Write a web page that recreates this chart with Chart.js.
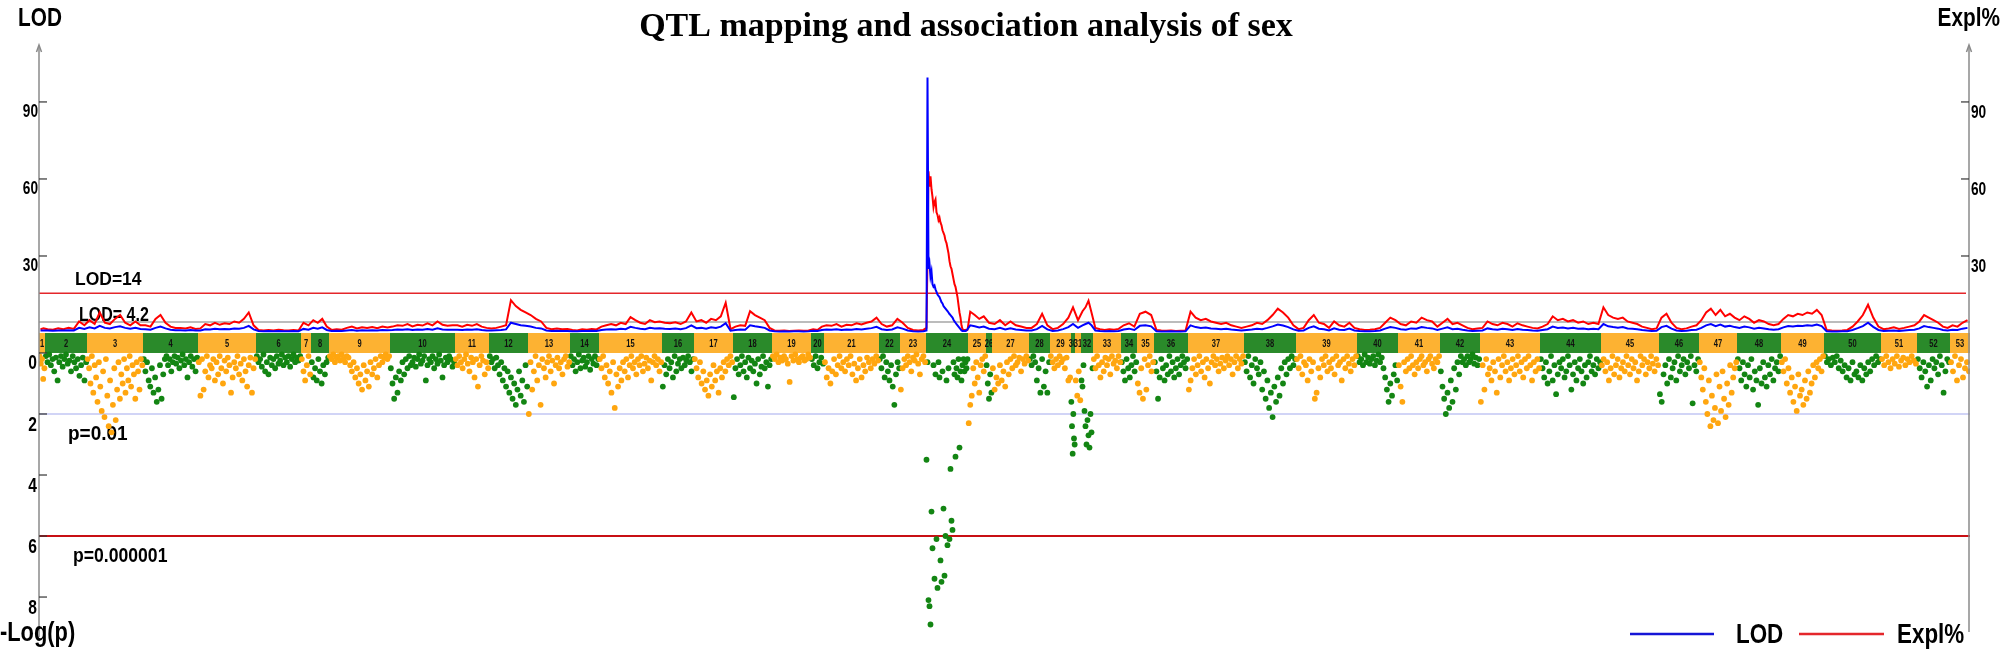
<!DOCTYPE html>
<html>
<head>
<meta charset="utf-8">
<title>QTL mapping and association analysis of sex</title>
<script src="https://cdn.jsdelivr.net/npm/chart.js@4.4.1/dist/chart.umd.min.js"></script>
<style>
  html, body { margin: 0; padding: 0; background: #fff; }
  #wrap { width: 2004px; height: 655px; position: relative; }
</style>
</head>
<body>
<div id="wrap"><canvas id="qtl"></canvas></div>
<script>
// chromosome names and their widths along the map
const chrLabels = ['1','2','3','4','5','6','7','8','9','10','11','12','13','14','15','16','17','18','19','20',
  '21','22','23','24','25','26','27','28','29','30','31','32','33','34','35','36','37','38','39','40',
  '41','42','43','44','45','46','47','48','49','50','51','52','53'];
const chrLengths = [6,42,56,55,58,45,10,18,61,65,34,39,42,29,63,32,39,39,39,13,
  55,21,26,42,18,6,37,21,21,4,6,12,28,16,17,34,56,52,61,41,
  42,40,60,61,58,40,38,44,43,57,36,33,20];

const lodTicks = [30, 60, 90];
const logpTicks = [0, 2, 4, 6, 8];
const lodThresholds = [15.5, 4.3];
const lodThresholdLabels = ['LOD=14', 'LOD= 4.2'];
const pThresholds = [2, 6];
const pThresholdLabels = ['p=0.01', 'p=0.000001'];

// LOD profile (blue), per chromosome
const lod = [
  [1.0,1.0],
  [1.0,0.9,1.0,1.0,1.1,1.0,2.0,1.6],
  [2.2,1.8,2.8,2.0,1.8,2.3,2.6,2.0,1.7,2.0,1.6],
  [1.5,1.3,2.0,2.5,1.8,1.3,1.1,1.1,1.0,1.2,1.0],
  [1.0,1.5,1.4,1.7,1.5,1.6,1.5,1.8,1.7,2.0,2.8,1.4],
  [0.8,0.7,0.8,0.7,0.8,0.7,0.7,0.8,0.7],
  [1.6,1.3],
  [2.0,1.7,2.2,1.2],
  [0.8,0.9,0.8,1.0,1.2,0.9,1.1,1.0,1.1,1.0,1.2,1.1],
  [1.2,1.4,1.3,1.5,1.2,1.4,1.3,1.6,1.3,1.8,1.4,1.3,1.3],
  [1.3,1.2,1.4,1.3,1.5,1.2,1.0],
  [1.0,1.1,1.2,1.4,4.0,3.5,3.0,2.8],
  [2.5,2.0,1.8,1.0,0.8,0.9,0.8,0.8],
  [0.7,0.7,0.8,0.8,0.9,0.8],
  [1.2,1.4,1.5,1.4,1.7,1.5,2.4,2.0,1.7,1.5,2.0,1.8,1.9],
  [1.7,1.6,1.8,1.5,1.9,3.0],
  [1.9,2.0,1.7,2.2,2.0,2.5,3.8,0.9],
  [1.2,1.4,1.3,3.0,2.6,2.3,2.0,1.0],
  [0.7,0.6,0.7,0.6,0.7,0.7,0.6,0.7],
  [0.9,0.8,1.2],
  [1.4,1.3,1.5,1.2,1.4,1.3,1.6,1.4,1.7,1.9,2.4],
  [1.5,1.2,1.4,2.2],
  [1.7,1.0,0.7,0.6,0.7],
  [1.0,99.5,25,27,22,24,19,18,18.5,17,16,15,14.5,14,13,12,11.5,10.5,10,9.5,9,8.5,8,7.4,7,6.5,6,5.2,4.5,4,3.5,3,2.5,2,1.5,1.0,0.8,0.8,0.9,0.8,1.0,1.5],
  [3.0,2.6,2.2,2.5],
  [1.7],
  [1.5,2.0,1.4,1.8,1.4,1.2,1.0],
  [1.0,1.5,2.8,1.4],
  [0.8,1.0,1.5,2.3],
  [3.5],
  [2.0],
  [3.0,3.5,4.0,3.0],
  [1.0,0.8,0.7,0.8,0.7,0.8],
  [1.4,1.7,1.2],
  [2.8,3.0,2.6],
  [0.7,0.6,0.6,0.7,0.6,0.6,0.7],
  [3.0,2.3,2.0,2.1,1.8,1.7,1.5,1.7,1.4,1.2,1.0],
  [1.2,1.4,1.7,1.5,2.0,2.6,3.3,2.9,2.3,1.4],
  [0.9,1.0,2.0,2.6,1.7,1.5,1.0,1.8,1.3,1.2,1.7,1.0],
  [0.8,0.7,0.7,0.8,1.0,1.7,2.3,2.0],
  [1.5,1.3,1.8,1.7,2.3,2.0,1.8,1.2],
  [1.7,2.2,1.5,1.7,1.3,1.0,0.8,0.9],
  [1.0,1.8,1.5,1.3,1.7,1.5,1.2,1.6,1.3,1.2,1.0,0.9],
  [1.2,1.5,2.5,2.0,2.1,1.8,2.0,1.7,1.8,1.5,1.7,1.5],
  [3.5,2.6,2.3,2.1,2.3,1.8,1.7,1.5,1.2,1.0,0.8,0.9],
  [2.3,2.8,1.7,1.0,0.8,0.9,1.2,1.3],
  [2.0,3.0,3.5,2.7,3.3,2.5,2.8,2.3],
  [2.0,2.5,2.2,1.7,2.0,1.8,1.5,1.3,1.5],
  [2.2,2.7,2.5,2.8,2.7,3.0,2.8,3.3,2.7],
  [0.7,0.6,0.6,0.7,0.7,1.2,1.9,2.7,4.0,2.4,1.2],
  [0.8,0.9,1.0,0.8,1.0,1.2,1.3],
  [1.8,2.7,2.3,2.0,1.7,1.2,1.0],
  [1.3,1.2,1.7,2.0]
];

// explained variance (red), per chromosome
const expl = [
  [1.5,1.8],
  [1.5,1.3,1.8,1.5,2.0,1.6,4.5,3.0],
  [5.0,3.5,8.0,4.0,3.5,5.5,7.0,4.0,3.0,4.5,3.0],
  [3.0,2.5,5.5,7.0,4.0,2.5,2.0,2.0,1.8,2.2,1.6],
  [1.8,3.5,3.0,4.0,3.2,3.8,3.5,4.5,4.0,5.5,8.0,3.0],
  [1.2,1.0,1.2,1.0,1.3,1.1,1.0,1.2,1.0],
  [4.0,3.0],
  [5.0,4.0,5.5,2.5],
  [1.2,1.5,1.3,2.0,2.5,1.8,2.2,2.0,2.3,1.9,2.5,2.2],
  [2.5,3.0,2.8,3.5,2.6,3.2,2.9,3.8,3.0,4.5,3.2,2.8,3.0],
  [3.0,2.5,3.2,2.8,3.5,2.5,2.0],
  [1.8,2.0,2.5,3.0,12.8,10.5,9.0,8.0],
  [7.0,5.5,4.5,2.0,1.5,1.8,1.5,1.6],
  [1.2,1.0,1.5,1.3,1.6,1.4],
  [2.5,3.0,3.5,3.0,4.0,3.5,6.2,5.0,4.0,3.5,5.0,4.2,4.5],
  [4.0,3.8,4.2,3.5,4.5,8.0],
  [4.5,5.0,4.0,5.5,5.0,6.5,11.8,1.5],
  [2.5,3.0,2.8,8.5,7.0,6.0,5.0,2.0],
  [1.0,0.9,1.0,0.8,0.9,1.0,0.9,1.0],
  [1.5,1.2,2.5],
  [3.0,2.8,3.5,2.5,3.2,3.0,3.8,3.3,4.0,4.5,6.0],
  [3.5,2.5,3.0,5.5],
  [4.0,2.0,1.2,1.0,1.2],
  [2,30,63,57,61,56,53,49,51,52,47,46,44,45,43,42,40,39,38,36,35,33,31,28,26,25,23,21,19,18,16,14,11,8,6,3,1.5,1.2,1.0,1.2,1.0,1.2],
  [8.3,7.0,5.5,6.5],
  [4.0],
  [3.5,5.0,3.0,4.5,3.0,2.5,2.0],
  [2.0,3.5,7.5,3.0],
  [1.5,2.0,3.5,6.0],
  [10.0],
  [5.0],
  [8.5,10.0,12.6,8.0],
  [2.0,1.5,1.2,1.5,1.3,1.6],
  [3.0,3.8,2.5],
  [7.5,8.3,7.0],
  [1.2,1.0,0.9,1.0,0.8,0.9,1.0],
  [8.3,6.0,5.0,5.5,4.5,4.0,3.5,4.0,3.0,2.5,2.0],
  [2.5,3.0,4.0,3.5,5.0,7.0,9.5,8.0,6.0,3.0],
  [1.5,2.0,5.0,7.0,4.0,3.5,2.0,4.5,3.0,2.5,4.0,2.0],
  [1.5,1.2,1.3,1.5,2.0,4.0,6.0,5.0],
  [3.5,3.0,4.5,4.0,6.0,5.0,4.5,2.5],
  [4.0,5.5,3.5,4.0,3.0,2.0,1.5,1.8],
  [2.0,4.5,3.5,3.0,4.0,3.5,2.5,3.8,3.0,2.5,2.0,1.8],
  [2.5,3.5,6.5,5.0,5.5,4.5,5.0,4.0,4.5,3.5,4.0,3.5],
  [10.0,7.0,6.0,5.5,6.0,4.5,4.0,3.5,2.5,2.0,1.5,1.8],
  [6.0,7.5,4.0,2.0,1.5,1.8,2.5,3.0],
  [5.0,8.0,9.5,7.0,9.0,6.5,7.5,6.0],
  [5.0,6.5,5.5,4.0,5.0,4.5,3.5,3.0,3.5],
  [5.5,7.0,6.5,7.5,7.0,8.0,7.5,9.0,7.0],
  [1.2,1.0,0.9,1.0,1.2,2.5,4.5,7.0,11.0,6.0,2.5],
  [1.5,1.8,2.2,1.6,2.0,2.5,3.0],
  [4.5,7.0,6.0,5.0,4.0,2.5,2.0],
  [3.0,2.5,4.0,5.0]
];

// -log10(p) of markers, per chromosome
const logP = [
  [0.1,0.35,0.2,0.85,0.5],
  [0.1,0.3,0.05,0.4,0.2,0.6,0.15,0.9,0.3,0.1,0.45,0.2,0.05,0.35,0.25,0.6,0.1,0.3,0.5,0.2,0.75,0.4,0.15,0.9,0.3],
  [0.2,0.5,1.0,0.1,1.3,0.4,0.8,1.6,0.3,1.1,1.9,0.6,2.1,0.2,1.4,2.4,0.9,2.6,1.7,0.5,2.2,1.2,0.3,1.5,0.7,1.0,0.2,1.3,0.5,0.9,0.1,1.1,0.4,0.7,1.5,0.3,0.6,1.2,0.2,0.4],
  [0.2,0.6,0.3,0.9,1.1,0.5,1.3,0.8,1.6,1.2,0.4,1.5,0.7,0.2,0.1,0.4,0.2,0.6,0.3,0.1,0.35,0.15,0.5,0.25,0.05,0.4,0.2,0.8,0.3,0.1,0.45,0.2,0.6,0.15],
  [0.3,1.4,0.2,1.2,0.6,0.1,0.8,0.4,0.5,0.2,0.9,0.3,0.7,0.1,0.5,1.0,0.25,0.6,0.15,0.4,1.3,0.8,0.3,0.5,0.1,0.7,0.35,0.9,0.2,0.6,1.1,0.4,0.15,1.3,0.5,0.2],
  [0.1,0.3,0.2,0.45,0.05,0.6,0.3,0.7,0.15,0.4,0.2,0.5,0.1,0.35,0.25,0.05,0.4,0.15,0.3,0.1,0.45,0.2,0.05,0.3,0.15,0.25,0.1],
  [0.2,0.6,0.9,0.4,0.1,0.7],
  [0.3,0.8,0.5,0.9,0.2,0.6,1.0,0.4,0.7,0.3,0.15],
  [0.1,0.2,0.05,0.3,0.15,0.1,0.25,0.05,0.2,0.3,0.1,0.15,0.4,0.6,0.3,0.8,0.5,1.0,0.7,1.2,0.4,0.9,0.6,1.1,0.3,0.7,0.5,0.2,0.8,0.4,0.1,0.3,0.15,0.05,0.2,0.1],
  [0.5,1.0,1.5,0.8,1.3,0.6,0.9,0.3,0.7,0.2,0.5,0.1,0.4,0.3,0.15,0.45,0.2,0.05,0.35,0.25,0.1,0.9,0.4,0.2,0.3,0.1,0.5,0.2,0.35,0.05,0.25,0.8,0.4,0.15,0.3,0.1,0.2,0.45,0.3],
  [0.2,0.4,0.1,0.3,0.5,0.2,0.05,0.35,0.6,0.15,0.3,0.8,0.2,1.1,0.4,0.1,0.25,0.7,0.3,0.5],
  [0.1,0.3,0.2,0.5,0.15,0.4,0.7,0.3,0.9,0.5,1.1,0.6,1.3,0.8,1.5,1.0,1.7,1.2,0.6,1.4,0.9,1.6,0.4,1.1],
  [2.0,0.3,1.2,0.6,0.1,0.9,0.4,1.7,0.2,0.5,0.8,0.3,0.1,0.6,0.25,1.0,0.4,0.15,0.5,0.3,0.7,0.2,0.1,0.45,0.3],
  [0.1,0.4,0.2,0.6,0.3,0.05,0.5,0.25,0.15,0.45,0.3,0.1,0.55,0.2,0.35,0.1,0.4,0.2],
  [0.2,0.5,0.1,0.8,0.4,1.0,0.6,1.3,0.3,1.8,0.7,1.1,0.5,0.9,0.3,0.6,0.2,0.8,0.4,0.1,0.5,0.3,0.7,0.2,0.4,0.1,0.6,0.35,0.15,0.5,0.25,0.9,0.3,0.1,0.4,0.2,0.6,0.3],
  [1.1,0.4,0.7,0.2,0.5,0.3,0.8,0.1,0.6,0.35,0.2,0.5,0.15,0.4,0.25,0.1,0.3,0.6,0.2],
  [0.2,0.5,0.8,0.3,1.0,0.6,1.2,0.9,1.4,0.7,1.1,0.4,0.9,0.6,1.3,0.5,0.8,0.3,0.6,0.2,0.4,0.1,0.3],
  [1.45,0.5,0.2,0.7,0.4,0.1,0.6,0.3,0.8,0.15,0.5,0.25,0.6,0.35,1.0,0.2,0.7,0.45,0.1,0.5,0.3,1.1,0.4,0.2],
  [0.1,0.2,0.05,0.3,0.15,0.25,0.1,0.2,0.35,0.95,0.1,0.25,0.05,0.2,0.3,0.15,0.1,0.25,0.2,0.05,0.15],
  [0.2,0.4,0.1,0.5,0.3,0.15,0.35],
  [0.3,0.8,0.5,1.0,0.6,0.2,0.7,0.4,0.1,0.5,0.3,0.6,0.2,0.4,0.1,0.7,0.35,0.9,0.5,0.2,0.8,0.4,0.6,0.15,0.3,0.5,0.2,0.35,0.1,0.25],
  [0.2,0.5,0.1,0.8,0.3,0.6,0.9,0.4,1.1,1.7,0.7,0.3,0.5],
  [1.2,0.5,0.2,0.4,0.1,0.3,0.6,0.15,0.25,0.05,0.35,0.7,0.2,0.1,0.3],
  [3.5,0.3,8.1,8.3,8.9,5.2,6.4,0.4,7.4,0.7,6.1,7.7,0.3,0.8,6.8,7.5,0.6,5.1,7.3,6.0,0.9,6.3,0.5,6.1,3.8,5.5,5.8,0.3,0.7,3.4,0.5,0.8,0.2,3.1,0.6,0.9,0.4,0.2,0.6,0.3,0.5,0.2],
  [2.3,1.7,1.4,0.5,1.0,0.3,0.8,1.3,0.4,0.2,0.6,0.1],
  [0.4,1.0,1.5,0.7,1.3],
  [0.5,1.2,0.8,1.0,0.4,0.9,0.6,1.1,0.3,0.7,0.2,0.5,0.1,0.4,0.3,0.15,0.6,0.2,0.35,0.1,0.25],
  [0.2,0.4,0.1,0.3,0.9,0.5,1.3,0.2,1.1,0.6,1.3,0.3],
  [0.1,0.3,0.5,0.2,0.4,0.1,0.3,0.2,0.5,0.15,0.9,0.8],
  [1.6,2.4,3.3,2.0,2.8,3.0],
  [0.9,1.4,0.6,1.55],
  [0.9,1.1,0.4,1.9,2.4,3.0,2.2,2.7,3.1,2.0,2.6,0.5],
  [0.2,0.5,0.1,0.4,0.8,0.3,0.6,0.15,0.4,0.2,0.7,0.1,0.35,0.25,0.5,0.1,0.3],
  [0.3,0.6,0.9,0.2,0.5,0.8,0.4,0.1,0.6,0.3],
  [1.0,1.3,0.5,1.5,0.2,1.2,0.4,0.1,0.6,0.3],
  [0.3,0.6,1.5,0.8,0.2,0.5,0.9,0.4,0.7,0.1,0.6,0.3,0.8,0.5,0.2,0.7,0.4,0.1,0.3,0.5,0.2],
  [1.2,0.9,0.5,0.2,0.7,0.4,0.1,0.6,0.3,0.8,0.2,0.5,1.0,0.3,0.1,0.4,0.2,0.6,0.35,0.15,0.5,0.25,0.1,0.4,0.2,0.7,0.3,0.1,0.5,0.2,0.35,0.1],
  [0.3,0.6,0.1,0.8,0.4,1.0,0.2,0.5,0.7,0.3,1.2,0.6,1.5,0.9,1.8,1.3,2.1,1.1,1.6,0.8,1.4,0.5,1.0,0.3,0.7,0.2,0.5,0.1,0.4,0.2],
  [0.2,0.5,0.1,0.7,0.3,0.4,0.9,0.2,0.6,0.3,1.5,1.3,0.5,0.8,0.2,0.4,0.1,0.6,0.3,0.5,0.2,0.7,0.1,0.4,0.3,0.9,0.2,0.5,0.1,0.35,0.6,0.2,0.4,0.1],
  [0.1,0.3,0.2,0.4,0.05,0.3,0.15,0.35,0.2,0.1,0.4,0.25,0.05,0.3,0.15,0.5,0.8,1.2,1.6,1.0,1.4,0.7,0.4,0.9],
  [0.4,1.1,1.6,0.3,0.6,0.2,0.5,0.1,0.4,0.7,0.3,0.5,0.2,0.1,0.4,0.3,0.6,0.2,0.1,0.35,0.5,0.2,0.3,0.1],
  [0.6,1.1,1.5,2.0,1.3,1.8,0.9,1.6,0.5,1.2,0.3,0.7,0.1,0.3,0.2,0.4,0.1,0.3,0.2,0.05,0.35,0.15,0.4,0.2],
  [1.6,0.4,1.2,0.2,0.7,0.5,0.9,0.3,0.6,1.3,0.2,0.8,0.4,0.1,0.6,0.3,0.9,0.5,0.2,0.7,0.4,0.1,0.6,0.3,0.8,0.2,0.5,0.1,0.4,0.9,0.3,0.6,0.2,0.5],
  [0.2,0.5,0.8,0.3,1.0,0.6,0.1,0.9,0.4,1.35,0.7,0.3,0.5,0.2,0.8,0.6,0.1,0.4,1.2,0.7,0.3,0.9,0.5,0.2,0.6,1.0,0.4,0.8,0.3,0.1,0.6,0.4,0.7,0.2,0.5,0.3],
  [0.4,0.2,0.6,0.3,0.9,0.5,0.1,0.7,0.4,0.2,0.8,0.5,0.3,0.6,0.1,0.4,0.7,0.2,0.5,0.3,0.9,0.6,0.1,0.4,0.2,0.7,0.3,0.5,0.1,0.35,0.6,0.2,0.4],
  [1.35,1.6,0.7,0.4,1.0,0.2,0.8,0.5,0.3,0.9,0.1,0.6,0.4,0.2,0.7,0.3,0.5,0.1,1.65,0.4,0.6,0.2],
  [0.3,0.8,1.2,0.5,1.6,2.0,0.9,2.4,1.4,2.2,1.8,0.7,2.3,1.1,1.9,0.6,1.5,2.1,1.0,1.7,0.4,1.3,0.8,0.5,0.3],
  [0.2,0.5,0.9,0.3,0.7,1.1,0.4,0.8,0.2,1.2,0.6,0.9,1.7,0.5,1.0,0.3,0.8,1.1,0.4,0.7,0.2,0.9,0.5,0.3,0.6,0.1],
  [0.3,0.6,0.2,1.0,0.5,1.3,0.8,1.6,1.1,1.9,0.7,1.4,1.2,1.7,0.9,1.5,0.6,1.3,1.0,0.4,0.8,0.3,0.5,0.2,0.6,0.1],
  [0.1,0.3,0.2,0.4,0.15,0.3,0.1,0.5,0.25,0.6,0.4,0.8,0.5,0.9,0.3,0.7,0.6,0.8,0.4,0.9,0.5,0.7,0.3,0.6,0.2,0.4,0.1,0.3,0.2],
  [0.2,0.4,0.1,0.3,0.5,0.2,0.35,0.1,0.45,0.25,0.15,0.4,0.2,0.3,0.1,0.25,0.35],
  [0.2,0.5,0.8,0.3,0.6,1.1,0.4,0.9,0.2,0.5,0.3,0.7,0.1,0.4,1.3,0.6,0.2,0.3],
  [0.3,0.6,0.1,0.9,0.4,0.2,0.8,0.5,0.3,0.6]
];

const ORANGE = '#fdb232';
const GREEN = '#2a8a2a';
const DOT_ORANGE = '#ffa60f';
const DOT_GREEN = '#138513';
const SANS = '"Liberation Sans", Arial, sans-serif';

const chrStarts = [];
let total = 0;
chrLengths.forEach(len => { chrStarts.push(total); total += len; });

// markers sit evenly along their chromosome
function place(values, c) {
  const start = chrStarts[c], len = chrLengths[c];
  return values.map((v, i) => ({ x: start + (i + 0.5) * len / values.length, y: v }));
}

const lodPoints = lod.flatMap((vals, c) => place(vals, c));
const explPoints = expl.flatMap((vals, c) => place(vals, c));
const oddPoints = logP.flatMap((vals, c) => c % 2 === 0 ? place(vals, c) : []);
const evenPoints = logP.flatMap((vals, c) => c % 2 === 1 ? place(vals, c) : []);

function hline(ctx, x0, x1, y, color, w) {
  ctx.strokeStyle = color;
  ctx.lineWidth = w;
  ctx.beginPath();
  ctx.moveTo(x0, y);
  ctx.lineTo(x1, y);
  ctx.stroke();
}

// condensed bold text: squeeze horizontally
function narrow(ctx, text, x, y, size, align, sx) {
  sx = sx || 0.8;
  ctx.save();
  ctx.font = 'bold ' + size + 'px ' + SANS;
  ctx.textAlign = align;
  ctx.scale(sx, 1);
  ctx.fillText(text, x / sx, y);
  ctx.restore();
}

const decor = {
  id: 'decor',
  beforeDatasetsDraw(chart) {
    const { ctx, chartArea: a, scales: { x, yL, yP } } = chart;
    ctx.save();
    // chromosome strip
    const top = yL.getPixelForValue(0), bot = yP.getPixelForValue(0);
    ctx.textBaseline = 'middle';
    chrLengths.forEach((len, c) => {
      const x0 = x.getPixelForValue(chrStarts[c]);
      const x1 = x.getPixelForValue(chrStarts[c] + len);
      ctx.fillStyle = c % 2 === 0 ? ORANGE : GREEN;
      ctx.fillRect(x0, top, x1 - x0, bot - top);
      ctx.fillStyle = '#111';
      narrow(ctx, chrLabels[c], (x0 + x1) / 2, (top + bot) / 2 + 1, 10, 'center', 0.75);
    });

    // threshold labels (sit under the lines)
    ctx.fillStyle = '#000';
    ctx.textBaseline = 'alphabetic';
    narrow(ctx, lodThresholdLabels[0], 75, yL.getPixelForValue(lodThresholds[0]) - 8, 19, 'left', 0.92);
    narrow(ctx, lodThresholdLabels[1], 79, yL.getPixelForValue(lodThresholds[1]) - 1, 20, 'left', 0.8);
    narrow(ctx, pThresholdLabels[0], 68, yP.getPixelForValue(pThresholds[0]) + 26, 20, 'left', 0.95);
    narrow(ctx, pThresholdLabels[1], 73, yP.getPixelForValue(pThresholds[1]) + 26, 20, 'left', 0.88);

    hline(ctx, a.left, a.right - 4, yL.getPixelForValue(lodThresholds[0]), '#e4262b', 1.6);
    hline(ctx, a.left, a.right, yL.getPixelForValue(lodThresholds[1]), '#a6a6a6', 1.6);
    hline(ctx, a.left, a.right, yP.getPixelForValue(pThresholds[0]), '#a3a9ee', 1.2);
    hline(ctx, a.left, a.right, yP.getPixelForValue(pThresholds[1]), '#c80f14', 2);
    ctx.restore();
  },
  afterDatasetsDraw(chart) {
    const { ctx, chartArea: a, scales: { yL, yP } } = chart;
    const lx = a.left, rx = a.right - 1;
    ctx.save();
    // axes with arrow heads
    ctx.strokeStyle = '#8a8a8a';
    ctx.lineWidth = 1.5;
    [[lx, a.bottom], [rx, a.bottom - 5]].forEach(([ax, ay]) => {
      ctx.beginPath();
      ctx.moveTo(ax, ay);
      ctx.lineTo(ax, a.top - 1);
      ctx.stroke();
      ctx.beginPath();
      ctx.moveTo(ax - 2.5, a.top + 5);
      ctx.lineTo(ax, a.top - 2);
      ctx.lineTo(ax + 2.5, a.top + 5);
      ctx.stroke();
    });

    // tick marks point inwards
    ctx.fillStyle = '#000';
    ctx.textBaseline = 'top';
    lodTicks.forEach(t => {
      const y = yL.getPixelForValue(t);
      hline(ctx, lx, lx + 8, y, '#333', 1.2);
      hline(ctx, rx - 8, rx, y, '#333', 1.2);
      narrow(ctx, String(t), lx - 1, y, 19, 'right', 0.72);
      narrow(ctx, String(t), rx + 2, y + 1, 19, 'left', 0.72);
    });
    logpTicks.forEach(t => {
      const y = yP.getPixelForValue(t);
      hline(ctx, lx, lx + 8, y, '#333', 1.2);
      narrow(ctx, String(t), lx - 2, y + 1, 20, 'right', 0.78);
    });

    // axis names
    ctx.textBaseline = 'alphabetic';
    narrow(ctx, 'LOD', 18, 26, 26, 'left', 0.8);
    narrow(ctx, 'Expl%', 2000, 26, 26, 'right', 0.8);
    narrow(ctx, '-Log(p)', 0, 641, 28, 'left', 0.78);

    // title
    ctx.font = 'bold 34px "Liberation Serif", "Times New Roman", serif';
    ctx.textAlign = 'center';
    ctx.fillText('QTL mapping and association analysis of sex', 966, 36);

    // legend
    const ly = 634;
    hline(ctx, 1630, 1714, ly, '#1515d6', 2.5);
    hline(ctx, 1799, 1884, ly, '#e4262b', 2.5);
    ctx.textBaseline = 'middle';
    narrow(ctx, 'LOD', 1736, ly + 1, 28, 'left', 0.8);
    narrow(ctx, 'Expl%', 1897, ly + 1, 28, 'left', 0.8);
    ctx.restore();
  }
};

new Chart(document.getElementById('qtl'), {
  type: 'scatter',
  data: {
    datasets: [
      { label: 'LOD', data: lodPoints, yAxisID: 'yL', showLine: true, borderColor: '#0000ff',
        borderWidth: 2, pointRadius: 0, order: 0 },
      { label: 'Expl%', data: explPoints, yAxisID: 'yL', showLine: true, borderColor: '#ff0000',
        borderWidth: 2, pointRadius: 0, order: 1 },
      { label: 'odd chromosomes', data: oddPoints, yAxisID: 'yP', backgroundColor: DOT_ORANGE,
        borderWidth: 0, pointRadius: 2.9, order: 2 },
      { label: 'even chromosomes', data: evenPoints, yAxisID: 'yP', backgroundColor: DOT_GREEN,
        borderWidth: 0, pointRadius: 2.9, order: 3 }
    ]
  },
  options: {
    responsive: true,
    maintainAspectRatio: false,
    animation: false,
    events: [],
    layout: { padding: { left: 39, right: 34, top: 47, bottom: 18 } },
    scales: {
      x: { type: 'linear', min: 0, max: total, display: false },
      yL: { type: 'linear', position: 'left', min: -118.4, max: 111.4, display: false },
      yP: { type: 'linear', position: 'left', reverse: true, min: -10.03, max: 9.31, display: false }
    },
    plugins: { legend: { display: false }, title: { display: false }, tooltip: { enabled: false } }
  },
  plugins: [decor]
});
</script>
</body>
</html>
